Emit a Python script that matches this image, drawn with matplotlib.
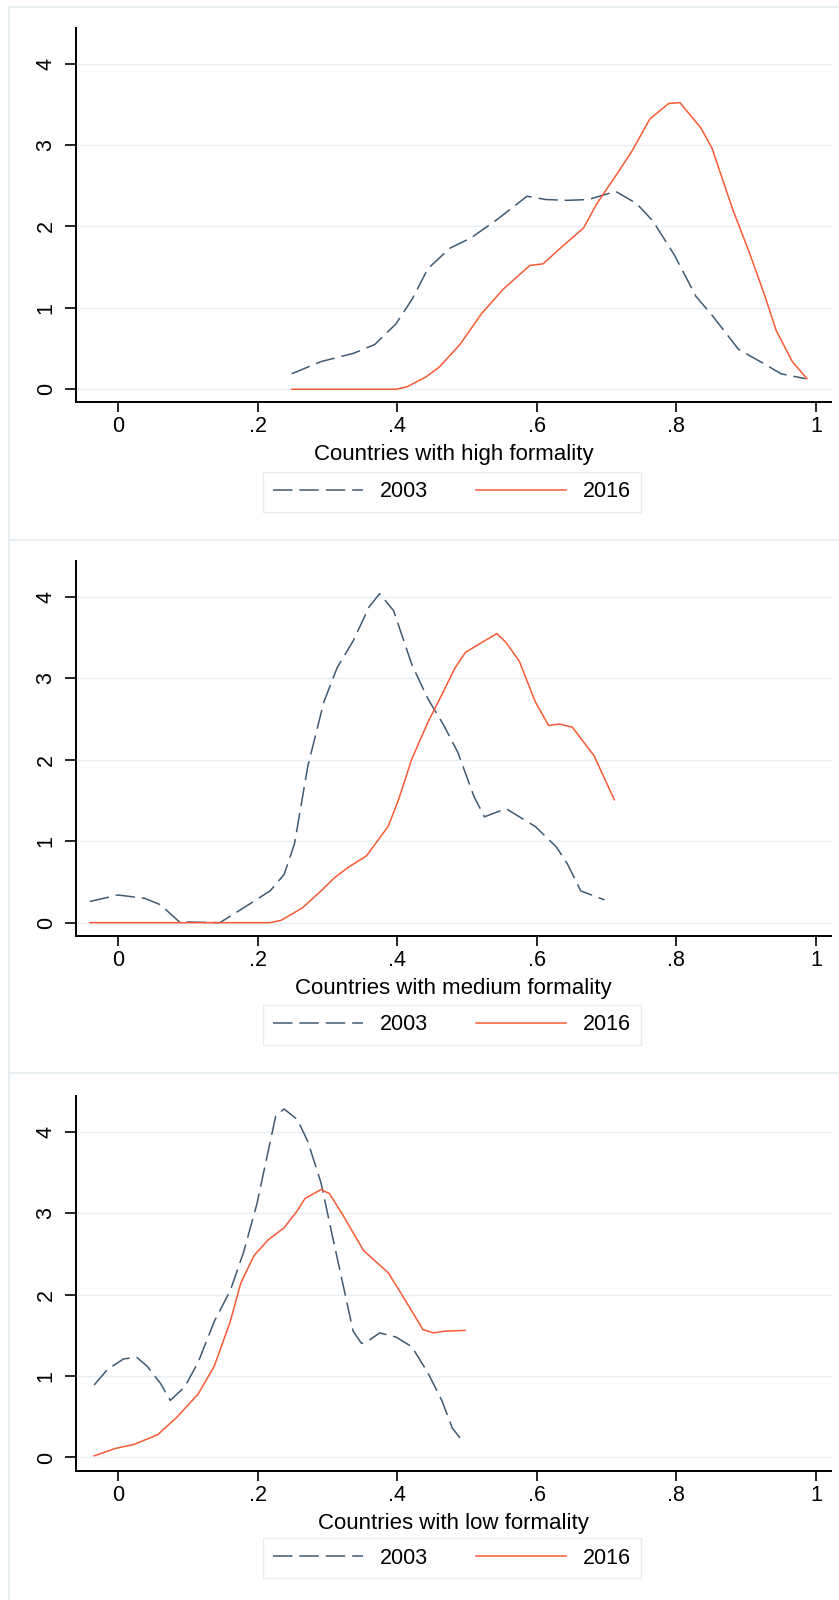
"""Kernel densities of formality share, 2003 vs 2016, by country group."""

import matplotlib
matplotlib.use("Agg")
import matplotlib.pyplot as plt
from matplotlib.lines import Line2D

plt.rcParams["font.family"] = ["Liberation Sans", "DejaVu Sans"]
plt.rcParams["lines.scale_dashes"] = False

W, H = 839, 1600
NAVY = "#3f5a73"
ORANGE = "#f85a35"
GRID = "#e6eff3"
BORDER = "#e3ecf1"

XTICKS = [0, 0.2, 0.4, 0.6, 0.8, 1]
XTICKLABELS = ["0", ".2", ".4", ".6", ".8", "1"]
YTICKS = [0, 1, 2, 3, 4]

# high formality
high_x03 = [0.249, 0.291, 0.337, 0.368, 0.398, 0.421, 0.444, 0.475, 0.506, 0.544,
            0.586, 0.613, 0.644, 0.674, 0.713, 0.743, 0.766, 0.797, 0.828, 0.851,
            0.889, 0.920, 0.950, 0.985]
high_y03 = [0.19, 0.34, 0.44, 0.55, 0.80, 1.10, 1.48, 1.73, 1.86, 2.09,
            2.37, 2.33, 2.32, 2.33, 2.43, 2.28, 2.07, 1.65, 1.14, 0.91,
            0.49, 0.34, 0.19, 0.13]
high_x16 = [0.249, 0.398, 0.414, 0.441, 0.460, 0.490, 0.521, 0.552, 0.590, 0.609,
            0.636, 0.667, 0.686, 0.713, 0.736, 0.762, 0.789, 0.805, 0.835, 0.851,
            0.881, 0.904, 0.927, 0.943, 0.966, 0.987]
high_y16 = [0.0, 0.0, 0.03, 0.15, 0.27, 0.55, 0.93, 1.23, 1.52, 1.54,
            1.75, 1.98, 2.28, 2.62, 2.92, 3.32, 3.51, 3.52, 3.21, 2.96,
            2.20, 1.69, 1.14, 0.72, 0.34, 0.13]

# medium formality
med_x03 = [-0.040, 0.0, 0.038, 0.061, 0.088, 0.146, 0.176, 0.218, 0.238, 0.253,
           0.272, 0.295, 0.314, 0.337, 0.360, 0.375, 0.395, 0.421, 0.444, 0.467,
           0.487, 0.510, 0.525, 0.556, 0.598, 0.628, 0.644, 0.663, 0.697]
med_y03 = [0.26, 0.34, 0.30, 0.22, 0.01, 0.0, 0.16, 0.39, 0.59, 0.97,
           1.92, 2.71, 3.13, 3.46, 3.88, 4.04, 3.83, 3.17, 2.75, 2.42,
           2.09, 1.55, 1.30, 1.40, 1.18, 0.93, 0.72, 0.39, 0.28]
med_x16 = [-0.040, 0.218, 0.234, 0.264, 0.291, 0.310, 0.330, 0.356, 0.387, 0.402,
           0.421, 0.444, 0.464, 0.483, 0.498, 0.521, 0.543, 0.556, 0.575, 0.598,
           0.617, 0.632, 0.651, 0.682, 0.711]
med_y16 = [0.0, 0.0, 0.03, 0.18, 0.39, 0.55, 0.68, 0.82, 1.18, 1.51,
           2.01, 2.46, 2.80, 3.13, 3.32, 3.44, 3.55, 3.44, 3.21, 2.71,
           2.42, 2.44, 2.40, 2.05, 1.51]

# low formality
low_x03 = [-0.034, -0.015, 0.008, 0.027, 0.042, 0.061, 0.075, 0.096, 0.115, 0.138,
           0.161, 0.180, 0.199, 0.215, 0.226, 0.238, 0.257, 0.272, 0.291, 0.307,
           0.322, 0.337, 0.349, 0.360, 0.375, 0.398, 0.421, 0.444, 0.464, 0.479,
           0.492]
low_y03 = [0.89, 1.08, 1.21, 1.23, 1.12, 0.91, 0.70, 0.87, 1.17, 1.67,
           2.05, 2.52, 3.11, 3.75, 4.19, 4.28, 4.15, 3.88, 3.37, 2.73,
           2.14, 1.55, 1.40, 1.44, 1.53, 1.48, 1.36, 1.04, 0.70, 0.36,
           0.22]
low_x16 = [-0.034, -0.004, 0.023, 0.057, 0.084, 0.115, 0.138, 0.161, 0.176, 0.195,
           0.215, 0.238, 0.257, 0.268, 0.291, 0.303, 0.322, 0.352, 0.387, 0.406,
           0.437, 0.452, 0.467, 0.497]
low_y16 = [0.02, 0.11, 0.16, 0.28, 0.49, 0.78, 1.12, 1.67, 2.14, 2.48,
           2.67, 2.82, 3.03, 3.18, 3.29, 3.24, 2.98, 2.54, 2.27, 2.01,
           1.57, 1.53, 1.55, 1.56]

panels = [
    ("Countries with high formality", high_x03, high_y03, high_x16, high_y16, 402.3, 491.7),
    ("Countries with medium formality", med_x03, med_y03, med_x16, med_y16, 935.7, 1024.8),
    ("Countries with low formality", low_x03, low_y03, low_x16, low_y16, 1470.5, 1558.3),
]

fig = plt.figure(figsize=(W / 100, H / 100), dpi=100)
fig.patch.set_facecolor("white")

# panel frames: left edge plus top line of each panel
fig.add_artist(Line2D([9.3 / W, 9.3 / W], [0, 1 - 7.3 / H], transform=fig.transFigure,
                      color=BORDER, lw=1.2))
for ytop in [7.3, 540, 1073.3]:
    fig.add_artist(Line2D([9.3 / W, 1], [1 - ytop / H] * 2, transform=fig.transFigure,
                          color=BORDER, lw=1.2))

DASH = (14, 5)
left, right, ax_h = 76, 830.7, 374.6

for title, x03, y03, x16, y16, bottom_px, leg_y in panels:
    ax = fig.add_axes([left / W, 1 - bottom_px / H, (right - left) / W, ax_h / H])
    ax.plot(x03, y03, color=NAVY, lw=1.1, dashes=DASH, label="2003")
    ax.plot(x16, y16, color=ORANGE, lw=1.1, label="2016")

    ax.set_xlim(-0.06, 1.021)
    ax.set_ylim(-0.16, 4.44)
    ax.set_xticks(XTICKS, XTICKLABELS)
    ax.set_yticks(YTICKS, [str(v) for v in YTICKS])
    for v in YTICKS:
        ax.axhline(v, color=GRID, lw=1.0, zorder=0)

    for side in ["top", "right"]:
        ax.spines[side].set_visible(False)
    for side in ["left", "bottom"]:
        ax.spines[side].set_linewidth(1.4)
    ax.tick_params(axis="x", length=7.2, width=1.2, pad=3, labelsize=15.5)
    ax.tick_params(axis="y", length=7.9, width=1.2, pad=6, labelsize=15.5,
                   labelrotation=90)
    for lab in ax.get_yticklabels():
        lab.set_va("center")
    ax.set_xlabel(title, fontsize=16, labelpad=5)

    fig.legend(*ax.get_legend_handles_labels(), loc="center",
               bbox_to_anchor=(451.9 / W, 1 - leg_y / H), ncol=2,
               fontsize=15.5, handlelength=4.2, handletextpad=0.8,
               columnspacing=2.2, borderpad=0.45, fancybox=False,
               framealpha=1, edgecolor=BORDER)

fig.savefig("out.png", dpi=100)
